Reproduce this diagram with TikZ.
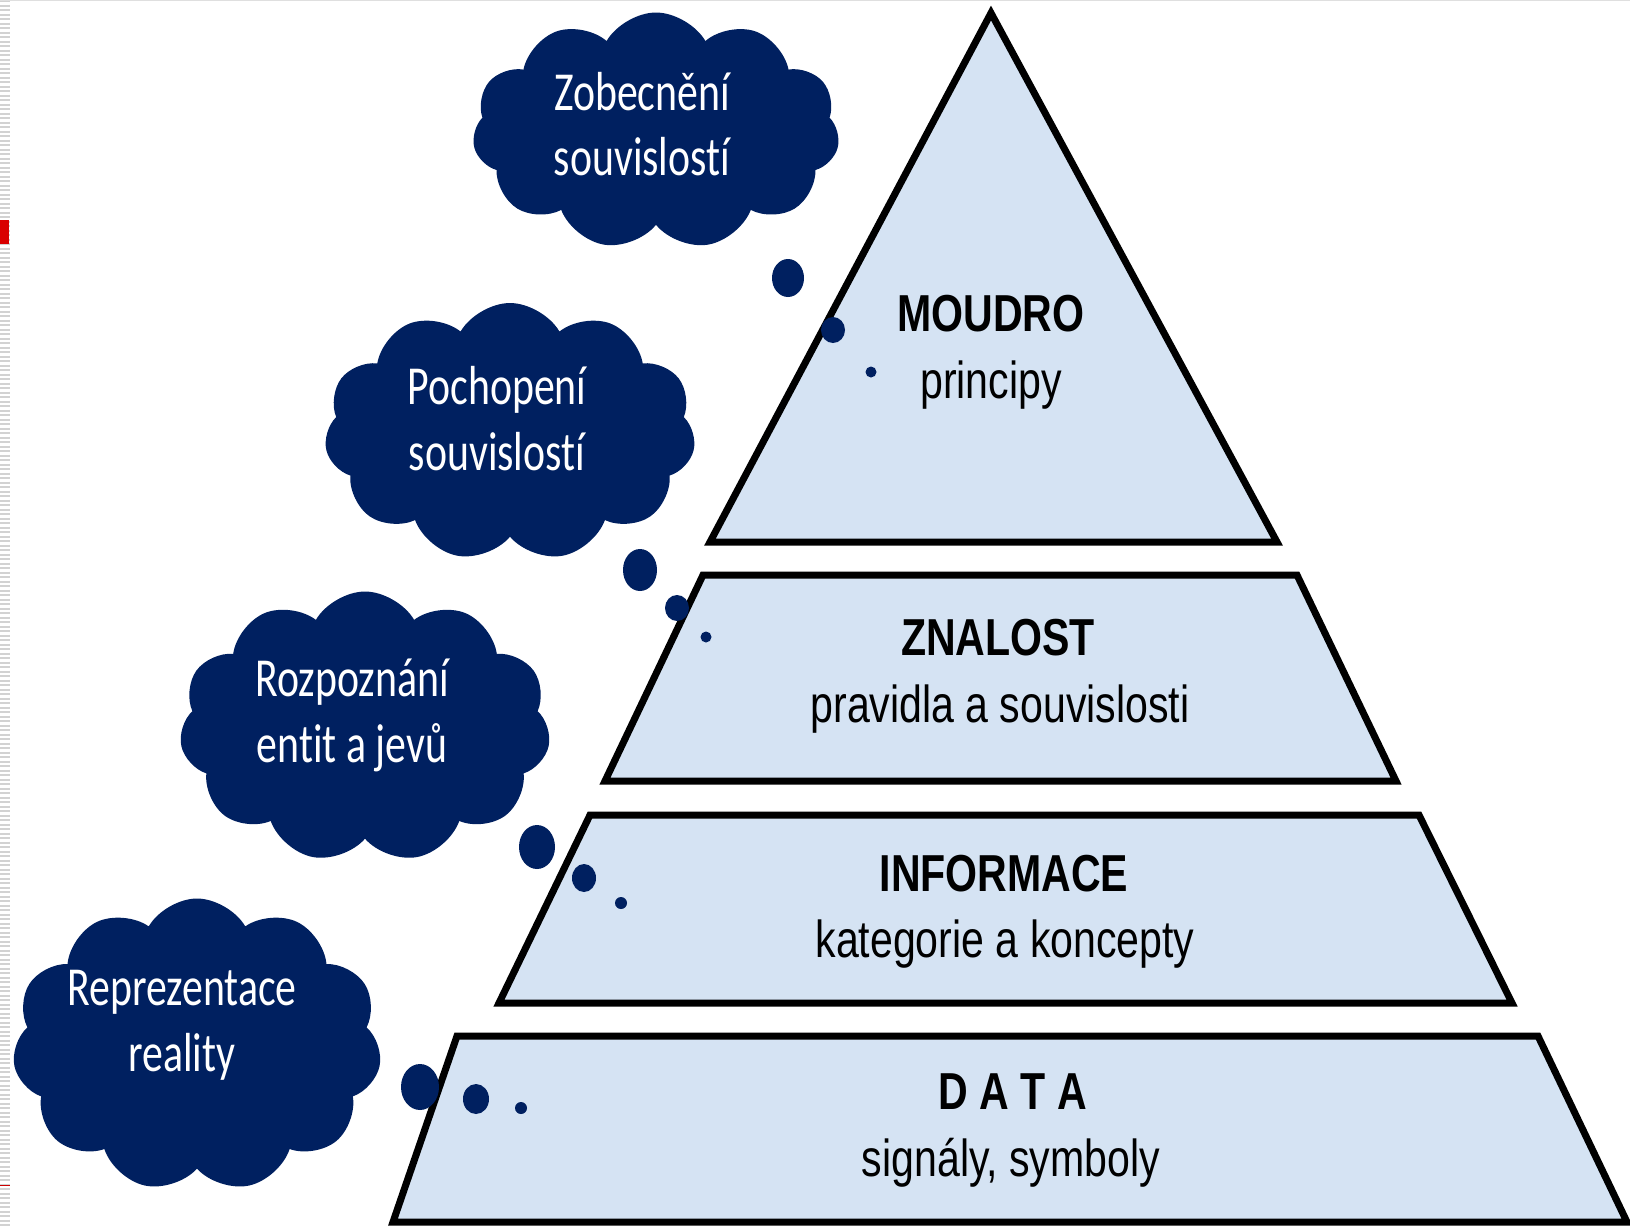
\documentclass[tikz,border=0pt]{standalone}
\usepackage{fontspec}
\usetikzlibrary{shapes.symbols}
\newfontfamily\pyrfont[FakeStretch=0.79]{Liberation Sans}
\newfontfamily\cloudfont[FakeStretch=0.76,RawFeature=-liga]{Carlito}
\definecolor{navy}{HTML}{002060}
\definecolor{pyrfill}{HTML}{D5E3F3}
\begin{document}
\begin{tikzpicture}[x=1pt,y=-1pt,
  layer/.style={fill=pyrfill, draw=black, line width=7pt, line join=miter},
  cloudy/.style={cloud, cloud puffs=11, cloud puff arc=120, cloud ignores aspect, fill=navy, draw=none, inner sep=0pt},
  bubble/.style={fill=navy},
  head/.style={font=\pyrfont\bfseries\fontsize{52}{60}\selectfont, anchor=base, inner sep=0pt},
  sub/.style={font=\pyrfont\fontsize{52}{60}\selectfont, anchor=base, inner sep=0pt},
  ctext/.style={font=\cloudfont\fontsize{55}{64}\selectfont, text=white, anchor=base, inner sep=0pt}]
\useasboundingbox (0,0) rectangle (1630,1227);
\fill[white] (0,0) rectangle (1630,1227);
% slide edge
\draw[gray!35, line width=10pt, dash pattern=on 2pt off 2.5pt] (5,0) -- (5,1227);
\draw[gray!25, line width=1pt] (0,0.5) -- (1630,0.5);
\fill[red!85!black] (0,220) rectangle (9,244);
\draw[red!80!black, line width=1pt] (0,1185) -- (10,1185);

% pyramid
\draw[layer] (991,13) -- (1277,542) -- (710,542) -- cycle;
\draw[layer] (703,575) -- (1297,575) -- (1396,781) -- (605,781) -- cycle;
\draw[layer] (590,815) -- (1419,815) -- (1512,1003) -- (499,1003) -- cycle;
\draw[layer] (457,1036) -- (1538,1036) -- (1627,1222) -- (393,1222) -- cycle;

\node[head] (h1) at (991,331) {MOUDRO};
\node[sub]  (s1) at (991,398) {principy};
\node[head] (h2) at (998,655) {ZNALOST};
\node[sub]  (s2) at (1000,722) {pravidla a souvislosti};
\node[head] (h3) at (1004,891) {INFORMACE};
\node[sub]  (s3) at (1005,957) {kategorie a koncepty};
\node[head] (h4) at (1013,1109) {D A T A};
\node[sub]  (s4) at (1011,1176) {signály, symboly};

% clouds
\node[cloudy, minimum width=367pt, minimum height=237pt] (c1) at (656,131) {};
\node[cloudy, minimum width=371pt, minimum height=258pt] (c2) at (510,432) {};
\node[cloudy, minimum width=371pt, minimum height=271pt] (c3) at (365,727) {};
\node[cloudy, minimum width=369pt, minimum height=293pt] (c4) at (197,1045) {};

\node[ctext] (t1a) at (642,110) {Zobecnění};
\node[ctext] (t1b) at (642,175) {souvislostí};
\node[ctext] (t2a) at (497,404) {Pochopení};
\node[ctext] (t2b) at (497,470) {souvislostí};
\node[ctext] (t3a) at (352,696) {Rozpoznání};
\node[ctext] (t3b) at (352,762) {entit a jevů};
\node[ctext] (t4a) at (182,1005) {Reprezentace};
\node[ctext] (t4b) at (182,1071) {reality};

% thought bubbles
\fill[bubble] (788,278) ellipse [x radius=16pt, y radius=19pt];
\fill[bubble] (833,330) ellipse [x radius=12pt, y radius=13pt];
\fill[bubble] (871,372) circle [radius=5.5pt];

\fill[bubble] (640,570) ellipse [x radius=17pt, y radius=21pt];
\fill[bubble] (677,608) ellipse [x radius=12pt, y radius=13pt];
\fill[bubble] (706,637) circle [radius=5.5pt];

\fill[bubble] (537,847) ellipse [x radius=18pt, y radius=22pt];
\fill[bubble] (584,878) ellipse [x radius=12pt, y radius=14pt];
\fill[bubble] (621,903) circle [radius=6pt];

\fill[bubble] (420,1087) ellipse [x radius=19pt, y radius=23pt];
\fill[bubble] (476,1099) ellipse [x radius=13pt, y radius=15pt];
\fill[bubble] (521,1108) circle [radius=6pt];
\end{tikzpicture}
\end{document}
